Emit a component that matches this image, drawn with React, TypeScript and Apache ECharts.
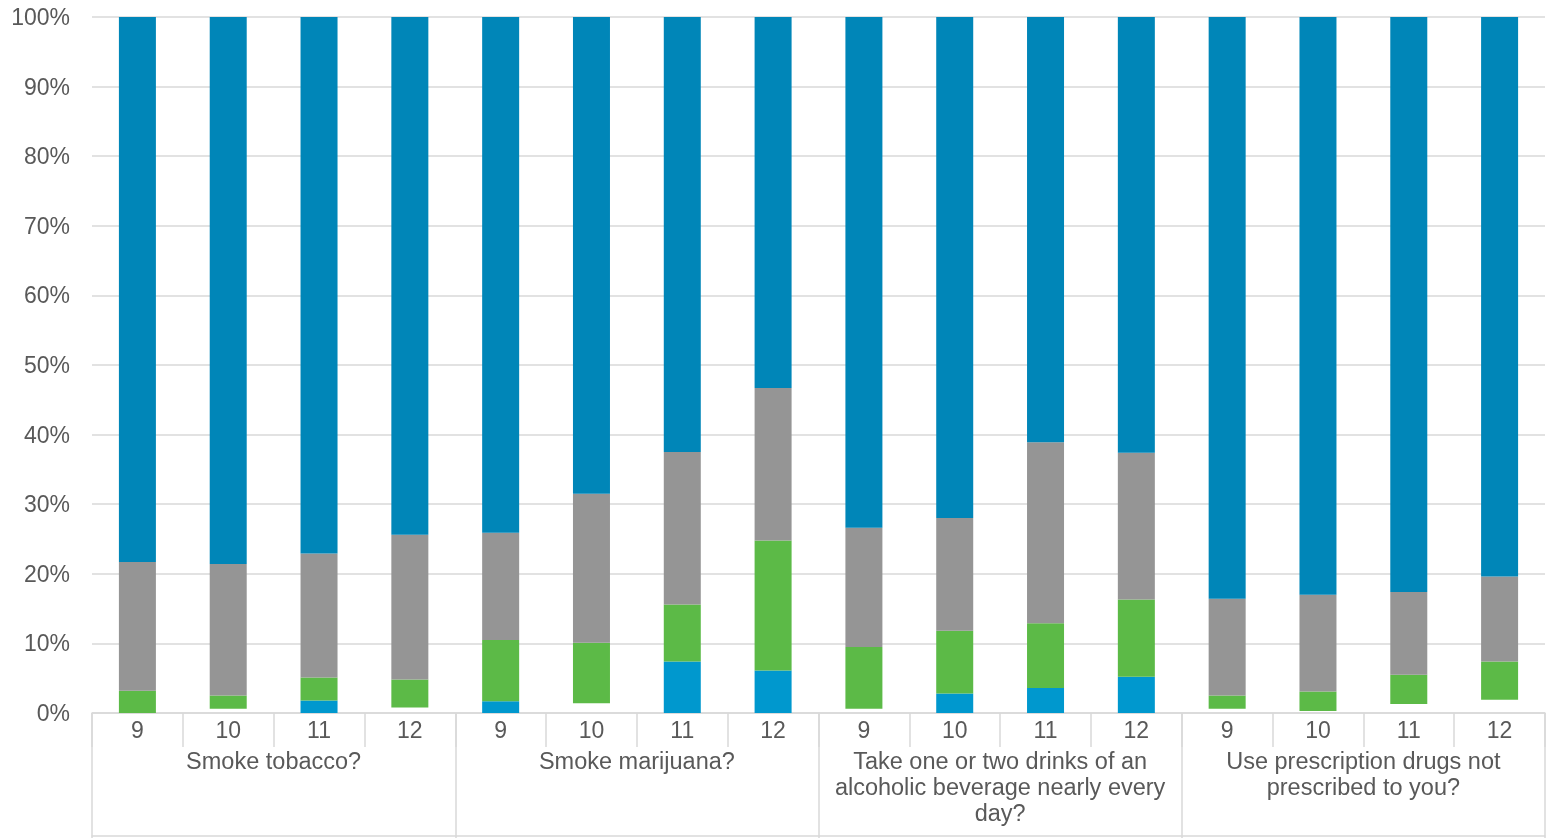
import React, { useEffect, useRef } from "react";
import * as echarts from "echarts";

const grades = ["9", "10", "11", "12", "9", "10", "11", "12", "9", "10", "11", "12", "9", "10", "11", "12"];
const groups = [
  "Smoke tobacco?",
  "Smoke marijuana?",
  "Take one or two drinks of an\nalcoholic beverage nearly every\nday?",
  "Use prescription drugs not\nprescribed to you?",
];
const yTicks = [0, 10, 20, 30, 40, 50, 60, 70, 80, 90, 100];

// Bottom-to-top stack (percent)
const blankValues = [0, 0.6, 0, 0.8, 0, 1.4, 0, 0, 0.6, 0, 0, 0, 0.6, 0.3, 1.3, 1.9];
const lightBlueValues = [0, 0, 1.8, 0, 1.7, 0, 7.4, 6.1, 0, 2.8, 3.6, 5.2, 0, 0, 0, 0];
const greenValues = [3.2, 1.9, 3.3, 4.0, 8.8, 8.7, 8.2, 18.7, 8.9, 9.0, 9.3, 11.1, 1.9, 2.8, 4.2, 5.5];
const grayValues = [18.5, 18.9, 17.8, 20.8, 15.4, 21.4, 21.9, 21.9, 17.1, 16.2, 26.0, 21.1, 13.9, 13.9, 11.9, 12.2];
const darkBlueValues = [78.3, 78.6, 77.1, 74.4, 74.1, 68.5, 62.5, 53.3, 73.4, 72.0, 61.1, 62.6, 83.6, 83.0, 82.6, 80.4];

const TEXT = "#595959";
const LINE = "#D9D9D9";
const FONT = "Liberation Sans, Arial, sans-serif";

export default function App() {
  const ref = useRef<HTMLDivElement>(null);
  useEffect(() => {
    if (!ref.current) return;
    const chart = echarts.init(ref.current, undefined, { renderer: "svg" });
    const mk = (name: string, data: number[], color: string) => ({
      name,
      type: "bar",
      stack: "total",
      data,
      barWidth: 37,
      itemStyle: { color },
      emphasis: { disabled: true },
    });
    chart.setOption({
      animation: false,
      textStyle: { fontFamily: FONT },
      grid: { left: 92, right: 3, top: 17, bottom: 125, containLabel: false },
      xAxis: [
        {
          type: "category",
          data: grades,
          position: "bottom",
          axisLine: { show: true, lineStyle: { color: LINE, width: 1.5 } },
          axisTick: { show: true, interval: 0, length: 34, lineStyle: { color: LINE, width: 1.5 } },
          axisLabel: { interval: 0, color: TEXT, fontSize: 23, fontFamily: FONT, margin: 5 },
        },
        {
          type: "category",
          data: groups,
          position: "bottom",
          axisLine: { show: false },
          axisTick: { show: true, interval: 0, length: 125, lineStyle: { color: LINE, width: 1.5 } },
          axisLabel: { interval: 0, color: TEXT, fontSize: 23.5, lineHeight: 26, fontFamily: FONT, margin: 35 },
        },
        {
          type: "category",
          data: groups,
          position: "bottom",
          offset: 123,
          axisLine: { show: true, lineStyle: { color: LINE, width: 1.5 } },
          axisTick: { show: false },
          axisLabel: { show: false },
        },
      ],
      yAxis: {
        type: "value",
        min: yTicks[0],
        max: yTicks[yTicks.length - 1],
        interval: 10,
        axisLine: { show: false },
        axisTick: { show: false },
        axisLabel: { color: TEXT, fontSize: 23, fontFamily: FONT, margin: 22, formatter: "{value}%" },
        splitLine: { lineStyle: { color: LINE, width: 1.5 } },
      },
      series: [
        mk("No answer", blankValues, "rgba(0,0,0,0)"),
        mk("Often", lightBlueValues, "#0098CE"),
        mk("Sometimes", greenValues, "#5CBA47"),
        mk("Rarely", grayValues, "#959595"),
        mk("Never", darkBlueValues, "#0086B8"),
      ],
    });
    return () => chart.dispose();
  }, []);
  return <div ref={ref} style={{ position: "fixed", left: 0, top: 0, width: 1548, height: 838 }} />;
}
